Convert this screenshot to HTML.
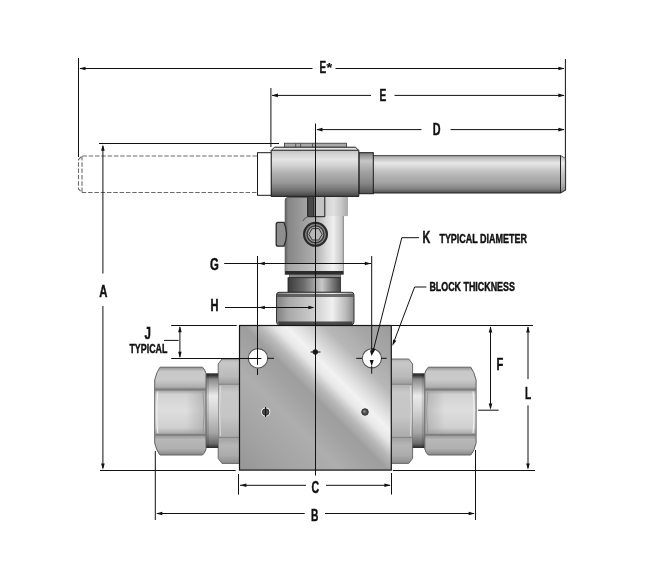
<!DOCTYPE html>
<html><head><meta charset="utf-8">
<style>
html,body{margin:0;padding:0;background:#fff;}
body{width:650px;height:580px;overflow:hidden;font-family:"Liberation Sans",sans-serif;}
svg{display:block}
text{font-family:"Liberation Sans",sans-serif;font-weight:bold;fill:#111;stroke:#111;stroke-width:0.45;}
.l{stroke:#111;stroke-width:1;fill:none}
.a{fill:#111;stroke:none}
</style></head><body>
<svg width="650" height="580" viewBox="0 0 650 580">
<defs>
<linearGradient id="gBar" x1="0" y1="0" x2="0" y2="1">
<stop offset="0" stop-color="#808080"/><stop offset="0.05" stop-color="#b8b8b8"/><stop offset="0.2" stop-color="#e8e8e8"/><stop offset="0.4" stop-color="#c6c6c6"/><stop offset="0.55" stop-color="#b2b2b2"/><stop offset="0.72" stop-color="#a4a4a4"/><stop offset="0.88" stop-color="#848484"/><stop offset="1" stop-color="#505050"/>
</linearGradient>
<linearGradient id="gHub" gradientUnits="userSpaceOnUse" x1="0" y1="147.3" x2="0" y2="196.4">
<stop offset="0" stop-color="#e6e6e6"/><stop offset="0.06" stop-color="#e2e2e2"/><stop offset="0.07" stop-color="#c4c4c4"/><stop offset="0.14" stop-color="#d4d4d4"/><stop offset="0.25" stop-color="#e4e4e4"/><stop offset="0.38" stop-color="#d0d0d0"/><stop offset="0.52" stop-color="#b2b2b2"/><stop offset="0.72" stop-color="#989898"/><stop offset="0.88" stop-color="#707070"/><stop offset="1" stop-color="#444444"/>
</linearGradient>
<linearGradient id="gCollar" x1="0" y1="0" x2="0" y2="1">
<stop offset="0" stop-color="#7a7a7a"/><stop offset="0.2" stop-color="#c6c6c6"/><stop offset="0.45" stop-color="#a4a4a4"/><stop offset="0.75" stop-color="#868686"/><stop offset="1" stop-color="#505050"/>
</linearGradient>
<linearGradient id="gStem" gradientUnits="userSpaceOnUse" x1="285" y1="0" x2="347" y2="0">
<stop offset="0" stop-color="#5a5a5a"/><stop offset="0.05" stop-color="#868686"/><stop offset="0.3" stop-color="#9e9e9e"/><stop offset="0.5" stop-color="#b2b2b2"/><stop offset="0.68" stop-color="#dcdcdc"/><stop offset="0.78" stop-color="#efefef"/><stop offset="0.9" stop-color="#cacaca"/><stop offset="1" stop-color="#9a9a9a"/>
</linearGradient>
<linearGradient id="gNeck" x1="0" y1="0" x2="1" y2="0">
<stop offset="0" stop-color="#3c3c3c"/><stop offset="0.3" stop-color="#6c6c6c"/><stop offset="0.65" stop-color="#c8c8c8"/><stop offset="0.85" stop-color="#7a7a7a"/><stop offset="1" stop-color="#444"/>
</linearGradient>
<linearGradient id="gBon" x1="0" y1="0" x2="1" y2="0">
<stop offset="0" stop-color="#808080"/><stop offset="0.15" stop-color="#a8a8a8"/><stop offset="0.5" stop-color="#d0d0d0"/><stop offset="0.72" stop-color="#f0f0f0"/><stop offset="0.9" stop-color="#b8b8b8"/><stop offset="1" stop-color="#8a8a8a"/>
</linearGradient>
<linearGradient id="gBlock" gradientUnits="userSpaceOnUse" x1="241" y1="472" x2="389.500" y2="323.500">
<stop offset="0" stop-color="#969696"/><stop offset="0.18" stop-color="#a4a4a4"/><stop offset="0.34" stop-color="#aeaeae"/><stop offset="0.44" stop-color="#a2a2a2"/><stop offset="0.5" stop-color="#9e9e9e"/><stop offset="0.55" stop-color="#b8b8b8"/><stop offset="0.6" stop-color="#e6e6e6"/><stop offset="0.64" stop-color="#f2f2f2"/><stop offset="0.69" stop-color="#dedede"/><stop offset="0.77" stop-color="#b8b8b8"/><stop offset="0.88" stop-color="#a6a6a6"/><stop offset="1" stop-color="#9c9c9c"/>
</linearGradient>
<linearGradient id="gFitNeck" x1="0" y1="0" x2="0" y2="1">
<stop offset="0" stop-color="#2a2a2a"/><stop offset="0.03" stop-color="#3a3a3a"/><stop offset="0.08" stop-color="#8a8a8a"/><stop offset="0.3" stop-color="#eaeaea"/><stop offset="0.5" stop-color="#d4d4d4"/><stop offset="0.8" stop-color="#a4a4a4"/><stop offset="0.94" stop-color="#6a6a6a"/><stop offset="1" stop-color="#2a2a2a"/>
</linearGradient>
<linearGradient id="gHexTop" x1="0" y1="0" x2="0" y2="1">
<stop offset="0" stop-color="#929292"/><stop offset="0.18" stop-color="#c8c8c8"/><stop offset="0.55" stop-color="#cacaca"/><stop offset="0.85" stop-color="#b0b0b0"/><stop offset="1" stop-color="#888888"/>
</linearGradient>
<linearGradient id="gHexMid" x1="0" y1="0" x2="0" y2="1">
<stop offset="0" stop-color="#a0a0a0"/><stop offset="0.1" stop-color="#d2d2d2"/><stop offset="0.45" stop-color="#dedede"/><stop offset="0.85" stop-color="#d0d0d0"/><stop offset="1" stop-color="#a4a4a4"/>
</linearGradient>
<linearGradient id="gHexBot" x1="0" y1="0" x2="0" y2="1">
<stop offset="0" stop-color="#8e8e8e"/><stop offset="0.25" stop-color="#b8b8b8"/><stop offset="0.7" stop-color="#b0b0b0"/><stop offset="1" stop-color="#868686"/>
</linearGradient>
<linearGradient id="gHexSide" x1="0" y1="0" x2="1" y2="0">
<stop offset="0" stop-color="#9a9a9a" stop-opacity="0"/><stop offset="1" stop-color="#9a9a9a" stop-opacity="0.55"/>
</linearGradient>
<linearGradient id="gThinTop" x1="0" y1="0" x2="0" y2="1">
<stop offset="0" stop-color="#b0b0b0"/><stop offset="0.15" stop-color="#c8c8c8"/><stop offset="0.7" stop-color="#bababa"/><stop offset="1" stop-color="#9c9c9c"/>
</linearGradient>
<linearGradient id="gThinMid" x1="0" y1="0" x2="0" y2="1">
<stop offset="0" stop-color="#b0b0b0"/><stop offset="0.15" stop-color="#c8c8c8"/><stop offset="0.6" stop-color="#c6c6c6"/><stop offset="1" stop-color="#aaaaaa"/>
</linearGradient>
<linearGradient id="gThinBot" x1="0" y1="0" x2="0" y2="1">
<stop offset="0" stop-color="#a0a0a0"/><stop offset="0.3" stop-color="#b6b6b6"/><stop offset="0.7" stop-color="#ababab"/><stop offset="1" stop-color="#8c8c8c"/>
</linearGradient>
<filter id="fNo" x="0" y="0" width="650" height="580" filterUnits="userSpaceOnUse"><feOffset dx="0" dy="0"/></filter>
</defs>
<rect width="650" height="580" fill="#fff"/>

<!-- ghost handle (dashed) -->
<g fill="none" stroke="#6a6a6a" stroke-width="1.1" stroke-dasharray="4.5 1.8">
<path d="M257 156H82L78.5 159.5V189L82 192.5H257"/>
<path d="M82 156V192"/>
</g>

<!-- handle bar -->
<path d="M373 155.5H560.5L565.5 158.5V190L560.5 193H373Z" fill="url(#gBar)"/>
<path d="M373 155.5H560.5L565.5 158.5" stroke="#555" stroke-width="1" fill="none"/>
<path d="M565.5 158.5V190L560.5 193H373" stroke="#222" stroke-width="1.2" fill="none"/>
<path d="M560.5 155.5L565.5 158.5V190L560.5 193Z" fill="#fff" opacity="0.2"/>
<path d="M560.5 155.5V193" stroke="#222" stroke-width="1" fill="none"/>
<!-- right collar -->
<rect x="359" y="152.7" width="14.3" height="41" fill="url(#gCollar)" stroke="#1a1a1a" stroke-width="1"/>
<!-- left white stub -->
<rect x="257.5" y="152.7" width="14" height="42.6" fill="#fff" stroke="#1a1a1a" stroke-width="1"/>
<!-- top plate -->
<rect x="284.5" y="143.2" width="62" height="5" fill="#a8a8a8" stroke="#333" stroke-width="0.8"/>
<path d="M295.7 143.5V147.5M300.6 143.5V147.5M312.5 143.5V147.5" stroke="#444" stroke-width="0.8"/>
<!-- hub -->
<path d="M271.2 150.5L274.5 147.2H355.500L358.800 150.5V196.4H271.2Z" fill="url(#gHub)" stroke="#1a1a1a" stroke-width="1"/>
<path d="M271.5 150.3H358.5" stroke="#1c1c1c" stroke-width="1.1"/>

<!-- stem upper right block -->
<rect x="324.8" y="197" width="22.5" height="18.6" fill="url(#gStem)"/>
<path d="M347.3 197V215.6H343.4" stroke="#888" stroke-width="0.8" fill="none"/>
<!-- stem body -->
<path d="M285.2 200Q285.2 197.5 288 197.5H343.4V274.6H285.2Z" fill="url(#gStem)"/>
<rect x="324.8" y="197" width="22.5" height="18.6" fill="#c9c9c9"/>
<rect x="324.8" y="197" width="22.5" height="18.6" fill="url(#gStem)" opacity="0.6"/>
<path d="M285.2 274.6V200Q285.2 197.5 288 197.5H307" stroke="#555" stroke-width="0.9" fill="none"/>
<path d="M343.4 216V274.6" stroke="#777" stroke-width="0.8" fill="none"/>
<!-- slot -->
<rect x="307.7" y="197" width="6.3" height="19.6" fill="#484848"/>
<rect x="314" y="197" width="10.8" height="19.6" fill="#c4c4c4"/>
<path d="M307.7 197V216.7H324.8V197M314 197V216.7" stroke="#1a1a1a" stroke-width="1" fill="none"/>
<path d="M307.7 216.7Q304 218 303 221" stroke="#444" stroke-width="0.8" fill="none"/>
<!-- stem bottom bands -->
<rect x="285.2" y="263.8" width="58.2" height="7.2" fill="#fff" opacity="0.25"/>
<rect x="285.2" y="271" width="58.2" height="3.6" fill="#2c2c2c"/>
<path d="M285.2 263.5H343.4" stroke="#666" stroke-width="0.7"/>
<!-- side bump -->
<path d="M278 222.3H284Q289 234 284 246.2H278Q276.2 246.2 276.2 244V224.5Q276.2 222.3 278 222.3Z" fill="#8e8e8e" stroke="#2c2c2c" stroke-width="1.3"/>
<!-- set screw -->
<circle cx="315.5" cy="234.3" r="11.5" fill="#808080" stroke="#2a2a2a" stroke-width="2"/>
<circle cx="315.5" cy="234.3" r="8.4" fill="#a6a6a6" stroke="#383838" stroke-width="1.3"/>
<path d="M308.9 234.3L312.2 228.6H318.8L322.1 234.3L318.8 240H312.2Z" fill="#b8b8b8" stroke="#3a3a3a" stroke-width="1"/>

<!-- small ring + neck -->
<rect x="289.6" y="274.6" width="50.8" height="3.2" fill="#8a8a8a" stroke="#333" stroke-width="0.6"/>
<rect x="288" y="277.7" width="52.4" height="14.6" fill="url(#gNeck)" stroke="#222" stroke-width="0.8"/>
<!-- bonnet -->
<path d="M279 292.3H351.5Q354 292.3 354 295V321Q354 325.4 350 325.4H280.5Q276.5 325.4 276.5 321V295Q276.5 292.3 279 292.3Z" fill="url(#gBon)" stroke="#222" stroke-width="0.9"/>
<path d="M277 294H353.5V297H277Z" fill="#444" opacity="0.75"/>
<path d="M278 321.5H352.5V325H279Z" fill="#333" opacity="0.85"/>

<!-- left fitting -->
<g id="fitL">
<!-- thin nut -->
<path d="M222 359H239.4V384.3H218.2V364Z" fill="url(#gThinTop)"/>
<rect x="218.200" y="384.3" width="21.2" height="53.1" fill="url(#gThinMid)"/>
<path d="M218.2 437.4H239.4V463.4H222L218.2 458.500Z" fill="url(#gThinBot)"/>
<path d="M218.2 384.3H239.4M218.2 437.4H239.4" stroke="#808080" stroke-width="1"/>
<path d="M239.4 359H222L218.2 364V458.5L222 463.4H239.4" stroke="#6a6a6a" stroke-width="1" fill="none"/>
<path d="M220.5 386Q218.800 411 220.5 436" stroke="#e4e4e4" stroke-width="0.9" fill="none" opacity="0.8"/>
<!-- neck -->
<rect x="206" y="373.3" width="12.2" height="74.7" fill="url(#gFitNeck)"/>
<rect x="206" y="373.3" width="3" height="74.7" fill="#000" opacity="0.12"/>
<!-- big hex -->
<path d="M160 367.2H202.500Q205 369.500 206 373.500V390H154.7V380Q156.500 372 160 367.2Z" fill="url(#gHexTop)"/>
<rect x="154.700" y="390" width="51.3" height="44.4" fill="url(#gHexMid)"/>
<path d="M154.7 434.4H206V449Q205 453 202.500 455H160Q156.500 451 154.700 443Z" fill="url(#gHexBot)"/>
<rect x="186" y="390" width="20" height="44.4" fill="url(#gHexSide)"/>
<path d="M155.2 390H205.500M155.200 434.4H205.500" stroke="#787878" stroke-width="1"/>
<path d="M155.2 389H205.500" stroke="#6c6c6c" stroke-width="1.2" opacity="0.45"/>
<path d="M155.2 435.5H205.500" stroke="#6c6c6c" stroke-width="1.2" opacity="0.4"/>
<path d="M157.800 391.500Q155.600 412 157.800 433" stroke="#f4f4f4" stroke-width="1.1" fill="none" opacity="0.9"/>
<path d="M203 391.500Q205.400 412 203 433" stroke="#909090" stroke-width="0.9" fill="none" opacity="0.8"/>
<path d="M160 367.2H202.500Q205 369.500 206 373.500V449Q205 453 202.500 455H160Q156.500 451 154.700 443V380Q156.500 372 160 367.2Z" stroke="#626262" stroke-width="1" fill="none"/>
</g>
<!-- right fitting (mirror about x=315.4) -->
<use href="#fitL" transform="translate(630.8,0) scale(-1,1)"/>

<!-- block -->
<rect x="239.5" y="325.5" width="151.8" height="144.6" fill="url(#gBlock)" stroke="#151515" stroke-width="1.2"/>
<circle cx="258" cy="358.3" r="9.7" fill="#fff" stroke="#555" stroke-width="1.1"/>
<circle cx="371.9" cy="358.3" r="9.6" fill="#fff" stroke="#555" stroke-width="1.1"/>
<circle cx="315.3" cy="352" r="2.7" fill="#2a2a2a"/>
<circle cx="265.7" cy="412.1" r="4.6" fill="#f4f4f4"/>
<circle cx="265.7" cy="412.1" r="3.3" fill="#4a4a4a" stroke="#222" stroke-width="0.8"/>
<circle cx="365" cy="412" r="3.3" fill="#505050" stroke="#222" stroke-width="0.8"/>
<circle cx="364.4" cy="411.4" r="1.2" fill="#8a8a8a"/>

<!-- dimension lines -->
<g class="l">
<!-- centerline -->
<path d="M315.5 123.5V475.5"/>
<!-- E* -->
<path d="M78.5 58V157"/>
<path d="M565.4 59V158.5"/>
<path d="M80 68.5H312.5M335.5 68.5H564"/>
<!-- E -->
<path d="M270.9 88V147"/>
<path d="M272 95.4H371M394.5 95.4H564"/>
<!-- D -->
<path d="M317 129.6H421.5M450.5 129.6H564"/>
<!-- A -->
<path d="M99 143.5H279"/>
<path d="M102.9 146V273.5M102.9 306V468"/>
<path d="M100 470.5H235.7"/>
<!-- G -->
<path d="M224.2 263.5H371"/>
<path d="M257.5 256V364.8M371.7 256V353"/>
<!-- H -->
<path d="M225 307.5H313"/>
<!-- J -->
<path d="M171.2 325.5H236.7M171.2 358.5H261.4"/>
<path d="M179.9 327V357"/>
<path d="M164 340.4H178.6"/>
<!-- hole crosshairs -->
<path d="M257.5 368.6V375M267.5 358.3H274"/>
<path d="M371.7 366V373.6M356.2 358.3H362M381 358.3H386.7"/>
<path d="M265.6 407V417M310.6 352H320.5"/>
<!-- C -->
<path d="M238.5 474V494.6M391.5 473V494.6"/>
<path d="M240 485.3H306M326 485.3H390"/>
<!-- B -->
<path d="M155.3 451V520M475.5 450V520"/>
<path d="M157 513.5H304.7M325 513.5H474"/>
<!-- F, L -->
<path d="M391.5 325.5H533M392.8 470.5H535"/>
<path d="M490.5 327V408"/>
<path d="M478.2 410.2H498.7"/>
<path d="M528 327V379M528 405.3V468"/>
<!-- leaders -->
<path d="M419 237.7H401.8L373.4 350"/>
<path d="M426.4 287H414.6L394.2 341"/>
</g>
<!-- arrowheads -->
<g class="a">
<path d="M79.3 68.5L85.5 66.7V70.3Z"/>
<path d="M564.6 68.5L558.4 66.7V70.3Z"/>
<path d="M271.7 95.4L277.9 93.6V97.2Z"/>
<path d="M564.6 95.4L558.4 93.6V97.2Z"/>
<path d="M316.3 129.6L322.5 127.8V131.4Z"/>
<path d="M564.6 129.6L558.4 127.8V131.4Z"/>
<path d="M102.9 144.6L101.1 150.8H104.7Z"/>
<path d="M102.9 469.8L101.1 463.6H104.7Z"/>
<path d="M258.6 263.5L264.8 261.7V265.3Z"/>
<path d="M371.0 263.5L364.8 261.7V265.3Z"/>
<path d="M258.6 307.5L264.8 305.7V309.3Z"/>
<path d="M314.6 307.5L308.4 305.7V309.3Z"/>
<path d="M179.9 326.0L178.1 332.2H181.7Z"/>
<path d="M179.9 358.0L178.1 351.8H181.7Z"/>
<path d="M240.2 485.3L246.4 483.5V487.1Z"/>
<path d="M390.6 485.3L384.4 483.5V487.1Z"/>
<path d="M156.1 513.5L162.3 511.7V515.3Z"/>
<path d="M474.8 513.5L468.6 511.7V515.3Z"/>
<path d="M490.5 326.2L488.7 332.4H492.3Z"/>
<path d="M490.5 409.8L488.7 403.6H492.3Z"/>
<path d="M528 326.2L526.2 332.4H529.8Z"/>
<path d="M528 469.8L526.2 463.6H529.8Z"/>
<path d="M372.2 354.8L372.2 348.3L375.6 349.1Z"/>
<path d="M392.3 346L393.1 339.6L396.3 340.8Z"/>
<path d="M371.7 356.3L369.9 350.5H373.5Z"/>
<path d="M371.7 366.2L369.7 360H373.7Z"/>
</g>

<!-- labels -->
<g filter="url(#fNo)">
<text x="319.4" y="72.6" font-size="16.4" textLength="6.6" lengthAdjust="spacingAndGlyphs" stroke-width="1">E</text>
<text x="326.4" y="72.2" font-size="13" textLength="5.6" lengthAdjust="spacingAndGlyphs" style="stroke-width:0.2">*</text>
<text x="379.4" y="101.2" font-size="16.4" textLength="6.8" lengthAdjust="spacingAndGlyphs" stroke-width="1">E</text>
<text x="432.8" y="135.3" font-size="16.4" textLength="7.8" lengthAdjust="spacingAndGlyphs" stroke-width="1">D</text>
<text x="99.2" y="296.6" font-size="16.4" textLength="8.2" lengthAdjust="spacingAndGlyphs" stroke-width="1">A</text>
<text x="210" y="269.8" font-size="16" textLength="8.8" lengthAdjust="spacingAndGlyphs" stroke-width="1">G</text>
<text x="210.6" y="310.8" font-size="16" textLength="8" lengthAdjust="spacingAndGlyphs" stroke-width="1">H</text>
<text x="144.6" y="338.8" font-size="16.4" textLength="6.4" lengthAdjust="spacingAndGlyphs" stroke-width="1">J</text>
<text x="129.4" y="352.8" font-size="12.2" textLength="38" lengthAdjust="spacingAndGlyphs">TYPICAL</text>
<text x="422.6" y="242.8" font-size="16.8" textLength="7.8" lengthAdjust="spacingAndGlyphs" stroke-width="1">K</text>
<text x="439.4" y="242.7" font-size="12.2" textLength="87.6" lengthAdjust="spacingAndGlyphs">TYPICAL DIAMETER</text>
<text x="429.4" y="290.6" font-size="12.2" textLength="85.5" lengthAdjust="spacingAndGlyphs">BLOCK THICKNESS</text>
<text x="496.6" y="369.6" font-size="16.4" textLength="6.8" lengthAdjust="spacingAndGlyphs" stroke-width="1">F</text>
<text x="525" y="398.8" font-size="16.4" textLength="6.2" lengthAdjust="spacingAndGlyphs" stroke-width="1">L</text>
<text x="311.4" y="492.5" font-size="16.4" textLength="7.6" lengthAdjust="spacingAndGlyphs" stroke-width="1">C</text>
<text x="311" y="520.8" font-size="16.4" textLength="7.4" lengthAdjust="spacingAndGlyphs" stroke-width="1">B</text>
</g>
</svg>
</body></html>
